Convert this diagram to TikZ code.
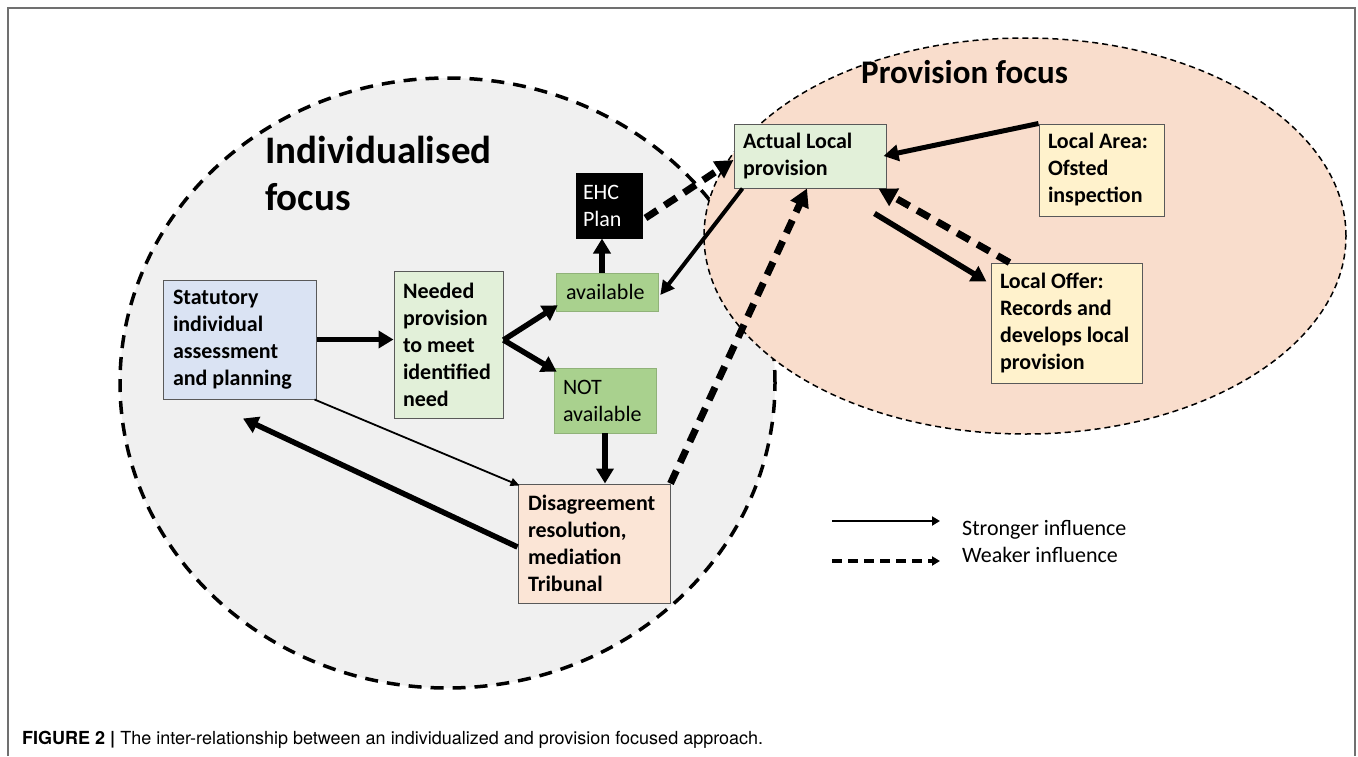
\documentclass[tikz,border=0pt]{standalone}
\usepackage{fontspec}
\setmainfont{Carlito}
\newfontfamily\capfont{TeX Gyre Heros}
\usetikzlibrary{arrows.meta,calc}
\definecolor{grayfill}{HTML}{F0F0F0}
\definecolor{peach}{HTML}{F9DDCC}
\definecolor{statblue}{HTML}{DAE3F3}
\definecolor{lightgreen}{HTML}{E2F0D9}
\definecolor{midgreen}{HTML}{A9D18E}
\definecolor{dispeach}{HTML}{FBE5D6}
\definecolor{paleyellow}{HTML}{FFF2CC}
\definecolor{boxborder}{HTML}{595959}
\definecolor{framegray}{HTML}{707070}
\tikzset{
  boxnode/.style={draw=boxborder, line width=1pt, inner xsep=10pt, inner ysep=0pt,
    font=\bfseries\fontsize{22pt}{27pt}\selectfont, align=left, anchor=center,
    execute at begin node={\spaceskip=0pt\xspaceskip=0pt\relax}},
  greenbox/.style={boxnode, fill=midgreen, draw=midgreen!85!black, line width=0.6pt,
    font=\fontsize{22pt}{27pt}\selectfont},
  strongarrow/.style={line width=5.5pt, -{Triangle[length=15pt,width=17pt]}},
  midarrow/.style={line width=4pt, -{Triangle[length=14pt,width=14pt]}},
  thinarrow/.style={line width=1.8pt, -{Triangle[length=9pt,width=8pt]}},
  weakarrow/.style={line width=7pt, dash pattern=on 14pt off 9pt, -{Triangle[length=18pt,width=19pt]}},
  titletext/.style={font=\bfseries, anchor=base west, align=left, inner sep=0pt},
  legendtext/.style={font=\fontsize{22pt}{26pt}\selectfont, anchor=base west, inner sep=0pt},
}
\begin{document}
\begin{tikzpicture}[x=1pt,y=-1pt]
\useasboundingbox (0,0) rectangle (1358,756);
\fill[white] (0,0) rectangle (1358,756);
% frame
\draw[framegray, line width=2pt] (8,756) -- (8,8) -- (1355,8) -- (1355,756);
% regions
\draw[fill=grayfill, line width=3.5pt, dash pattern=on 13pt off 9pt] (447.5,383) ellipse [x radius=327.5pt, y radius=305pt];
\draw[fill=peach, line width=1.5pt, dash pattern=on 6pt off 4pt] (1025,236) ellipse [x radius=321pt, y radius=198pt];
% titles
\node[titletext, font=\bfseries\fontsize{39pt}{47pt}\selectfont] (t1) at (265,210) {Individualised\\focus};
\node[titletext, font=\bfseries\fontsize{33pt}{40pt}\selectfont] (t2) at (861,83) {Provision focus};
% boxes
\node[boxnode, fill=statblue, text width=133pt, minimum height=119pt] (stat) at (239.5,339.5) {Statutory\\individual\\assessment\\and planning};
\node[boxnode, fill=lightgreen, inner xsep=9pt, text width=91pt, minimum height=147pt] (need) at (448.5,344.5) {Needed\\provision\\to meet\\identified\\need};
\node[greenbox, text width=82pt, minimum height=38pt] (avail) at (607,292) {available};
\node[greenbox, inner xsep=9pt, text width=84pt, minimum height=65pt] (notavail) at (605,400.5) {NOT\\available};
\node[boxnode, fill=black, draw=black, text=white, inner xsep=7pt, font=\fontsize{22pt}{27pt}\selectfont, text width=52pt, minimum height=65pt] (ehc) at (609,205.5) {EHC\\Plan};
\node[boxnode, fill=dispeach, text width=132pt, minimum height=119pt] (dis) at (594,543.5) {Disagreement\\resolution,\\mediation\\Tribunal};
\node[boxnode, fill=lightgreen, inner xsep=9pt, text width=134pt, minimum height=64pt] (actual) at (810,156) {Actual Local\\provision};
\node[boxnode, fill=paleyellow, inner xsep=9pt, text width=107pt, minimum height=92pt] (area) at (1101.5,170) {Local Area:\\Ofsted\\inspection};
\node[boxnode, fill=paleyellow, inner xsep=9pt, text width=133pt, minimum height=120pt] (offer) at (1066.5,323) {Local Offer:\\Records and\\develops local\\provision};
% connectors
\draw[strongarrow] (stat.east) -- (stat.east -| need.west);
\draw[strongarrow] ([yshift=4.5pt]need.east) -- ([xshift=2pt,yshift=6pt]avail.south west);
\draw[strongarrow] ([yshift=4.5pt]need.east) -- ([xshift=3pt,yshift=-4pt]notavail.north west);
\draw[strongarrow] ([xshift=-5pt]avail.north) -- ([xshift=-5pt]avail.north |- ehc.south);
\draw[weakarrow] ([xshift=3pt,yshift=-12.5pt]ehc.east) -- ([yshift=-4pt]actual.west);
\draw[midarrow] ([xshift=9pt]actual.south west) -- ([xshift=2pt,yshift=-3pt]avail.east);
\draw[line width=5pt, -{Triangle[length=15pt,width=16pt]}] (area.north west) -- ([xshift=-3pt]actual.east);
\draw[strongarrow] ([xshift=-12pt,yshift=-25pt]actual.south east) -- ([xshift=-4pt,yshift=-19pt]offer.north west);
\draw[weakarrow] ([xshift=19pt]offer.north west) -- ([xshift=-8pt]actual.south east);
\draw[weakarrow] (dis.north east) -- ([xshift=-3pt]actual.south);
\draw[strongarrow] (notavail.south) -- (notavail.south |- dis.north);
\draw[thinarrow] ([xshift=-2pt]stat.south east) -- ([xshift=2pt,yshift=-2pt]dis.north west);
\draw[strongarrow] ([yshift=-3.5pt]dis.west) -- ([xshift=3.5pt,yshift=-19pt]stat.south);
% legend
\coordinate (ls1) at (832,521); \coordinate (le1) at (940,521);
\coordinate (ls2) at (832,561); \coordinate (le2) at (940,561);
\draw[line width=2.5pt, -{Triangle[length=8pt,width=9pt]}] (ls1) -- (le1);
\draw[line width=3.5pt, dash pattern=on 10pt off 6pt, -{Triangle[length=8pt,width=9pt]}] (ls2) -- (le2);
\node[legendtext] (lt1) at (962,535) {Stronger influence};
\node[legendtext] (lt2) at (962,562) {Weaker influence};
% caption
\node[anchor=base west, inner sep=0pt, font=\capfont\fontsize{18pt}{22pt}\selectfont] (cap) at (22,744) {\textbf{FIGURE 2 |} The inter-relationship between an individualized and provision focused approach.};
\end{tikzpicture}
\end{document}
